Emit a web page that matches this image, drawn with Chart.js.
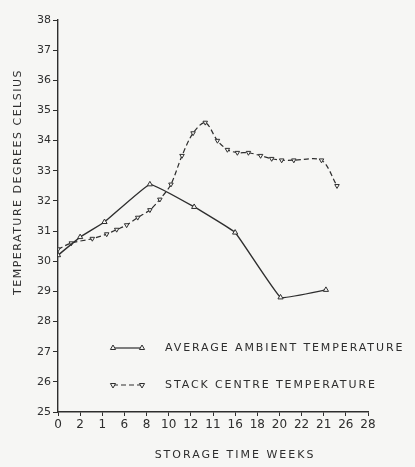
<!DOCTYPE html>
<html>
<head>
<meta charset="utf-8">
<script src="https://cdn.jsdelivr.net/npm/chart.js@4.4.0/dist/chart.umd.min.js"></script>
<style>
  html, body { margin: 0; padding: 0; background: #f6f6f4; }
  #wrap { width: 415px; height: 467px; }
</style>
</head>
<body>
<div id="wrap"><canvas id="tempChart" width="415" height="467"></canvas></div>
<script>
// values
let ambientWeeks = [0, 2, 4.2, 8.3, 12.3, 16, 20.1, 24.2];
let ambientTemp = [30.2, 30.8, 31.3, 32.55, 31.8, 30.95, 28.8, 29.05];

let stackWeeks = [0, 1.2, 3.1, 4.4, 5.3, 6.2, 7.2, 8.3, 9.2, 10.2, 11.2, 12.2, 13.3, 14.4, 15.3, 16.2, 17.2, 18.3, 19.3, 20.2, 21.3, 23.8, 25.2];
let stackTemp = [30.4, 30.6, 30.75, 30.9, 31.05, 31.2, 31.45, 31.7, 32.05, 32.55, 33.5, 34.25, 34.6, 34.0, 33.7, 33.6, 33.6, 33.5, 33.4, 33.35, 33.35, 33.35, 32.5];

// tick labels as printed on the scan
let xTickLabels = ['0', '2', '1', '6', '8', '10', '12', '11', '16', '18', '20', '22', '21', '26', '28'];
let legendLabels = ['AVERAGE AMBIENT TEMPERATURE', 'STACK CENTRE TEMPERATURE'];
let xTitle = 'STORAGE TIME WEEKS';
let yTitle = 'TEMPERATURE DEGREES CELSIUS';

const ink = '#2e2e2e';
const paper = '#f6f6f4';
const fontFam = '"DejaVu Sans", sans-serif';

function toPoints(xs, ys) {
  return xs.map((x, i) => ({ x: x, y: ys[i] }));
}

// legend inside the plot and spaced-out axis titles, like the original
const annotations = {
  id: 'annotations',
  afterDraw(chart) {
    const ctx = chart.ctx;
    const area = chart.chartArea;
    const rows = [area.top + 328, area.top + 365];
    ctx.save();
    chart.data.datasets.forEach((ds, i) => {
      const y = rows[i];
      const x0 = area.left + 55, x1 = area.left + 84;
      ctx.strokeStyle = ink;
      ctx.lineWidth = 1.2;
      ctx.setLineDash(ds.borderDash || []);
      ctx.beginPath();
      ctx.moveTo(x0, y);
      ctx.lineTo(x1, y);
      ctx.stroke();
      ctx.setLineDash([]);
      ctx.fillStyle = paper;
      ctx.lineWidth = 1;
      [x0, x1].forEach(px => {
        Chart.helpers.drawPoint(ctx, {
          pointStyle: 'triangle', radius: 3, rotation: ds.pointRotation || 0, borderWidth: 1
        }, px, y);
      });
      ctx.fillStyle = ink;
      ctx.font = '11px ' + fontFam;
      ctx.letterSpacing = '1.9px';
      ctx.textAlign = 'left';
      ctx.textBaseline = 'middle';
      ctx.fillText(legendLabels[i], area.left + 107, y);
    });

    ctx.fillStyle = ink;
    ctx.textAlign = 'center';
    ctx.textBaseline = 'middle';
    ctx.font = '11px ' + fontFam;
    ctx.letterSpacing = '2px';
    ctx.fillText(xTitle, area.left + 177, area.bottom + 43);

    ctx.translate(18, area.top + 162);
    ctx.rotate(-Math.PI / 2);
    ctx.font = '11px ' + fontFam;
    ctx.letterSpacing = '1.5px';
    ctx.fillText(yTitle, 0, 0);
    ctx.restore();
  }
};

new Chart(document.getElementById('tempChart'), {
  type: 'line',
  data: {
    datasets: [
      {
        label: legendLabels[0],
        data: toPoints(ambientWeeks, ambientTemp),
        borderColor: ink,
        borderWidth: 1.4,
        backgroundColor: paper,
        pointStyle: 'triangle',
        pointRadius: 3,
        pointBorderWidth: 1,
        tension: 0.08
      },
      {
        label: legendLabels[1],
        data: toPoints(stackWeeks, stackTemp),
        borderColor: ink,
        borderWidth: 1.2,
        borderDash: [5, 3],
        backgroundColor: paper,
        pointStyle: 'triangle',
        pointRotation: 180,
        pointRadius: 2.6,
        pointBorderWidth: 1,
        tension: 0.3
      }
    ]
  },
  options: {
    responsive: false,
    animation: false,
    layout: { padding: { top: 20, right: 47, left: 0, bottom: 0 } },
    plugins: {
      legend: { display: false },
      tooltip: { enabled: false }
    },
    scales: {
      x: {
        type: 'linear',
        min: 0,
        max: 28,
        afterFit: (scale) => { scale.height = 55; },
        border: { color: ink, width: 1.4 },
        grid: { display: true, drawOnChartArea: false, color: ink, tickLength: 4 },
        ticks: {
          stepSize: 2,
          color: ink,
          font: { family: fontFam, size: 12 },
          padding: 2,
          callback: (v) => xTickLabels[v / 2]
        }
      },
      y: {
        min: 25,
        max: 38,
        afterFit: (scale) => { scale.width = 58; },
        border: { color: ink, width: 1.4 },
        grid: { display: true, drawOnChartArea: false, color: ink, tickLength: 5 },
        ticks: {
          stepSize: 1,
          color: ink,
          font: { family: fontFam, size: 11 },
          padding: 2
        }
      }
    }
  },
  plugins: [annotations]
});
</script>
</body>
</html>
